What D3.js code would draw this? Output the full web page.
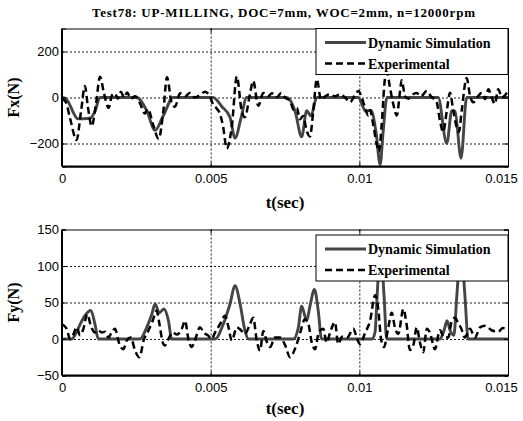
<!DOCTYPE html>
<html>
<head>
<meta charset="utf-8">
<script src="https://cdn.jsdelivr.net/npm/d3@7"></script>
<style>
  body { margin: 0; background: #fff; }
  svg { display: block; }
  .tick text { font-family: "Liberation Sans", Arial, sans-serif; font-size: 13px; fill: #000; }
  .serif { font-family: "Liberation Serif", "Times New Roman", serif; font-weight: bold; fill: #000; }
  .grid line { stroke: #000; stroke-width: 0.9; stroke-dasharray: 2,2; }
  .grid path { display: none; }
</style>
</head>
<body>
<div class="chart"></div>
<script>
// Tick values and labels
var xTicks = [0, 0.005, 0.01, 0.015];
var xTickLabels = ["0", "0.005", "0.01", "0.015"];
var fxTicks = [-200, 0, 200];
var fyTicks = [-50, 0, 50, 100, 150];
var seriesNames = ["Dynamic Simulation", "Experimental"];
var chartTitle = "Test78: UP-MILLING, DOC=7mm, WOC=2mm, n=12000rpm";

// Fx(N), dynamic simulation (time in sec)
var fxSimT = [0, 0.13e-3, 0.54e-3, 0.94e-3, 1.11e-3, 1.28e-3, 2.51e-3, 2.85e-3, 3.13e-3, 3.41e-3, 3.74e-3,
  5.08e-3, 5.38e-3, 5.65e-3, 5.82e-3, 6.02e-3, 6.21e-3, 7.56e-3, 7.84e-3, 8.06e-3, 8.23e-3, 8.37e-3, 8.57e-3,
  9.96e-3, 10.22e-3, 10.39e-3, 10.56e-3, 10.70e-3, 10.80e-3, 10.93e-3, 12.65e-3, 12.94e-3, 13.11e-3, 13.22e-3,
  13.42e-3, 13.61e-3, 15e-3];
var fxSimV = [0, -5, -93, -90, -60, 0, 0, -57, -143, -78, 0,
  0, -40, -86, -177, -90, 0, 0, -60, -171, -57, -80, 0,
  0, -60, -55, -150, -292, -150, 0, 0, -200, -57, -60,
  -264, 0, 0];

// Fx(N), experimental
var fxExpT = [0, 0.13e-3, 0.27e-3, 0.49e-3, 0.64e-3, 0.77e-3, 0.87e-3, 1.00e-3, 1.14e-3, 1.28e-3,
  1.41e-3, 1.57e-3, 1.68e-3, 1.78e-3, 1.88e-3, 1.98e-3, 2.09e-3, 2.19e-3, 2.32e-3, 2.46e-3,
  2.62e-3, 2.79e-3, 2.89e-3, 3.07e-3, 3.25e-3, 3.41e-3, 3.53e-3, 3.69e-3, 3.80e-3, 3.97e-3,
  4.14e-3, 4.30e-3, 4.47e-3, 4.64e-3, 4.81e-3, 4.98e-3, 5.08e-3, 5.18e-3, 5.31e-3, 5.42e-3,
  5.54e-3, 5.71e-3, 5.88e-3, 6.04e-3, 6.15e-3, 6.32e-3, 6.43e-3, 6.60e-3, 6.77e-3, 6.93e-3,
  7.06e-3, 7.23e-3, 7.37e-3, 7.50e-3, 7.67e-3, 7.80e-3, 7.90e-3, 8.00e-3, 8.11e-3, 8.23e-3,
  8.34e-3, 8.45e-3, 8.57e-3, 8.71e-3, 8.85e-3, 9.01e-3, 9.18e-3, 9.35e-3, 9.52e-3, 9.69e-3,
  9.85e-3, 9.97e-3, 10.08e-3, 10.19e-3, 10.30e-3, 10.36e-3, 10.47e-3, 10.58e-3, 10.66e-3, 10.75e-3,
  10.86e-3, 10.93e-3, 11.03e-3, 11.14e-3, 11.26e-3, 11.37e-3, 11.42e-3, 11.54e-3, 11.65e-3, 11.76e-3,
  11.93e-3, 12.07e-3, 12.27e-3, 12.41e-3, 12.60e-3, 12.71e-3, 12.82e-3, 12.94e-3, 13.05e-3, 13.16e-3,
  13.27e-3, 13.35e-3, 13.44e-3, 13.61e-3, 13.72e-3, 13.83e-3, 13.96e-3, 14.12e-3, 14.23e-3, 14.34e-3,
  14.45e-3, 14.56e-3, 14.67e-3, 14.80e-3, 14.90e-3, 15.00e-3];
var fxExpV = [-5, -20, -90, -185, -60, 50, -40, -125, -30, 90,
  20, -45, 10, 18, -5, 25, 0, 22, -5, 5,
  -25, -70, -50, -120, -180, -57, 88, -25, -40, 18,
  5, 20, 0, 10, 25, 3, -30, -45, -70, -128,
  -222, -128, 92, -57, -86, 14, 72, -36, 20, 5,
  18, 2, 20, 0, -15, -55, -45, -95, -80, -145,
  -170, -60, 80, -10, 5, 15, 5, 15, 0, -20,
  10, 28, 0, -43, -78, -55, -121, -200, -235, -120,
  80, 110, 43, -28, -78, 28, 75, 5, -5, 10,
  20, 5, 28, 5, -21, -100, -150, -60, 21, -57,
  -128, -150, -60, 85, 10, -21, 0, 21, -7, 36,
  0, -28, 36, 0, 10, 28];

// Fy(N), dynamic simulation
var fySimT = [0, 0.33e-3, 0.47e-3, 0.61e-3, 0.77e-3, 0.97e-3, 1.11e-3, 1.22e-3,
  2.62e-3, 2.85e-3, 3.02e-3, 3.13e-3, 3.27e-3, 3.43e-3, 3.58e-3, 3.69e-3,
  5.15e-3, 5.42e-3, 5.65e-3, 5.82e-3, 5.99e-3, 6.15e-3, 6.27e-3,
  7.78e-3, 7.95e-3, 8.06e-3, 8.23e-3, 8.34e-3, 8.49e-3, 8.62e-3, 8.73e-3,
  10.43e-3, 10.53e-3, 10.60e-3, 10.71e-3, 10.83e-3, 10.92e-3,
  12.71e-3, 12.85e-3, 12.95e-3, 13.05e-3, 13.18e-3, 13.28e-3, 13.42e-3, 13.55e-3, 13.66e-3, 15e-3];
var fySimV = [0, 0, 8, 20, 32, 39, 20, 0,
  0, 16, 34, 48, 36, 41, 25, 0,
  0, 20, 48, 73, 48, 12, 0,
  0, 16, 45, 25, 45, 68, 38, 0,
  0, 10, 60, 125, 60, 0,
  0, 12, 25, 12, 5, 60, 125, 60, 0, 0];

// Fy(N), experimental
var fyExpT = [0, 0.16e-3, 0.27e-3, 0.37e-3, 0.49e-3, 0.61e-3, 0.72e-3, 0.85e-3, 0.97e-3, 1.11e-3,
  1.21e-3, 1.34e-3, 1.45e-3, 1.56e-3, 1.67e-3, 1.78e-3, 1.93e-3, 2.06e-3, 2.18e-3, 2.31e-3,
  2.46e-3, 2.60e-3, 2.76e-3, 2.90e-3, 3.05e-3, 3.18e-3, 3.28e-3, 3.39e-3, 3.46e-3, 3.58e-3,
  3.72e-3, 3.87e-3, 4.03e-3, 4.14e-3, 4.25e-3, 4.36e-3, 4.47e-3, 4.64e-3, 4.78e-3, 4.91e-3,
  5.03e-3, 5.15e-3, 5.31e-3, 5.48e-3, 5.59e-3, 5.71e-3, 5.88e-3, 6.02e-3, 6.15e-3, 6.32e-3,
  6.43e-3, 6.55e-3, 6.66e-3, 6.77e-3, 6.89e-3, 7.00e-3, 7.16e-3, 7.33e-3, 7.50e-3, 7.67e-3,
  7.84e-3, 8.00e-3, 8.17e-3, 8.29e-3, 8.40e-3, 8.51e-3, 8.64e-3, 8.79e-3, 8.90e-3, 9.01e-3,
  9.18e-3, 9.29e-3, 9.42e-3, 9.59e-3, 9.80e-3, 9.91e-3, 10.02e-3, 10.19e-3, 10.36e-3, 10.53e-3,
  10.64e-3, 10.73e-3, 10.83e-3, 10.97e-3, 11.09e-3, 11.20e-3, 11.31e-3, 11.48e-3, 11.59e-3, 11.70e-3,
  11.82e-3, 11.93e-3, 12.04e-3, 12.15e-3, 12.27e-3, 12.38e-3, 12.54e-3, 12.71e-3, 12.85e-3, 12.99e-3,
  13.11e-3, 13.22e-3, 13.32e-3, 13.42e-3, 13.55e-3, 13.72e-3, 13.89e-3, 14.06e-3, 14.23e-3, 14.45e-3,
  14.67e-3, 14.83e-3, 15.00e-3];
var fyExpV = [20, 14, 0, 5, 16, 5, 14, 34, 18, 9,
  12, 9, 10, 2, 9, 14, -7, -14, -2, 2,
  -16, -25, 0, 11, 25, 39, 20, -5, -9, 0,
  9, 6, 14, 25, 0, -11, -2, 16, 8, 5,
  0, 9, 20, 32, 18, -2, 16, 12, 7, 20,
  29, -2, -16, 11, -4, -11, 2, 2, -8, -25,
  -13, 7, 27, 20, -5, -14, 10, 14, -5, 8,
  23, -7, 3, 2, 14, 2, -7, 8, 25, 60,
  40, 0, -11, 15, 36, 15, 7, 41, 20, -15,
  -8, 16, -5, -18, 14, 8, -14, 12, 2, 2,
  25, 29, 22, 15, 2, 14, 2, 16, 18, 12,
  10, 15, 14];

// SVG area
var svgWidth = 523;
var svgHeight = 421;
var plotLeft = 62;
var plotWidth = 446;

var svg = d3.select(".chart")
  .append("svg")
  .attr("width", svgWidth)
  .attr("height", svgHeight);

svg.append("rect")
  .attr("width", svgWidth)
  .attr("height", svgHeight)
  .attr("fill", "#fff");

// Title (MATLAB spreads it out a bit)
svg.append("text")
  .attr("class", "serif")
  .attr("x", 92)
  .attr("y", 17)
  .attr("textLength", 383)
  .attr("lengthAdjust", "spacing")
  .style("font-size", "13px")
  .text(chartTitle);

function drawPanel(cfg) {
  var h = cfg.height;
  var g = svg.append("g")
    .attr("transform", `translate(${plotLeft}, ${cfg.top})`);

  var x = d3.scaleLinear().domain([0, 0.015]).range([0, plotWidth]);
  var y = d3.scaleLinear().domain(cfg.yDomain).range([h, 0]);

  // dotted grid
  g.append("g")
    .attr("class", "grid")
    .attr("transform", `translate(0, ${h})`)
    .call(d3.axisBottom(x).tickValues(xTicks.slice(1, -1)).tickSize(-h).tickFormat(""));
  g.append("g")
    .attr("class", "grid")
    .call(d3.axisLeft(y).tickValues(cfg.yTicks.filter(d => d > cfg.yDomain[0] && d < cfg.yDomain[1]))
      .tickSize(-plotWidth).tickFormat(""));

  // clip the curves to the plot area
  g.append("clipPath")
    .attr("id", cfg.id)
    .append("rect")
    .attr("width", plotWidth)
    .attr("height", h);

  var line = d3.line()
    .x(d => x(d[0]))
    .y(d => y(d[1]))
    .curve(d3.curveMonotoneX);

  g.append("path")
    .datum(d3.zip(cfg.simT, cfg.simV))
    .attr("clip-path", `url(#${cfg.id})`)
    .attr("fill", "none")
    .attr("stroke", "#454545")
    .attr("stroke-width", 2.9)
    .attr("stroke-linejoin", "round")
    .attr("d", line);

  g.append("path")
    .datum(d3.zip(cfg.expT, cfg.expV))
    .attr("clip-path", `url(#${cfg.id})`)
    .attr("fill", "none")
    .attr("stroke", "#000")
    .attr("stroke-width", 2.5)
    .attr("stroke-dasharray", "7,4")
    .attr("stroke-linejoin", "round")
    .attr("d", line);

  // axes with inward ticks
  var bottomAxis = d3.axisBottom(x).tickValues(xTicks).tickSize(-4).tickPadding(7)
    .tickFormat((d, i) => xTickLabels[i]);
  var leftAxis = d3.axisLeft(y).tickValues(cfg.yTicks).tickSize(-4).tickPadding(3);

  var xAxisG = g.append("g")
    .attr("transform", `translate(0, ${h})`)
    .call(bottomAxis);
  // last label is pulled inside the figure, as MATLAB does
  xAxisG.selectAll(".tick text")
    .filter((d, i) => i === xTicks.length - 1)
    .attr("dx", -7);

  g.append("g")
    .call(leftAxis);
  g.append("g")
    .call(d3.axisTop(x).tickValues(xTicks).tickSize(-4).tickFormat(""));
  g.append("g")
    .attr("transform", `translate(${plotWidth}, 0)`)
    .call(d3.axisRight(y).tickValues(cfg.yTicks).tickSize(-4).tickFormat(""));
  g.selectAll(".domain").attr("stroke", "#000").attr("stroke-width", 1);
  g.selectAll(".tick line").attr("stroke", "#000");

  // heavier left/bottom edges
  g.append("line").attr("x1", 0).attr("x2", 0).attr("y1", 0).attr("y2", h)
    .attr("stroke", "#000").attr("stroke-width", 2);
  g.append("line").attr("x1", 0).attr("x2", plotWidth).attr("y1", h).attr("y2", h)
    .attr("stroke", "#000").attr("stroke-width", 2);

  // axis titles
  g.append("text")
    .attr("class", "serif")
    .attr("transform", `translate(-43, ${h / 2}) rotate(-90)`)
    .attr("text-anchor", "middle")
    .style("font-size", "16px")
    .text(cfg.yLabel);
  g.append("text")
    .attr("class", "serif")
    .attr("x", plotWidth / 2)
    .attr("y", h + cfg.xLabelGap)
    .attr("text-anchor", "middle")
    .style("font-size", "17px")
    .text("t(sec)");

  // legend
  var lg = g.append("g")
    .attr("transform", `translate(${plotWidth - 192}, ${cfg.legendTop})`);
  lg.append("rect")
    .attr("width", 192)
    .attr("height", 46)
    .attr("fill", "#fff")
    .attr("stroke", "#000")
    .attr("stroke-width", 1);
  seriesNames.forEach(function(name, i) {
    var ly = 14 + i * 21;
    lg.append("line")
      .attr("x1", 9).attr("x2", 50)
      .attr("y1", ly).attr("y2", ly)
      .attr("stroke", i === 0 ? "#454545" : "#000")
      .attr("stroke-width", i === 0 ? 2.9 : 2.5)
      .attr("stroke-dasharray", i === 0 ? null : "7,4");
    lg.append("text")
      .attr("class", "serif")
      .attr("x", 52)
      .attr("y", ly + 5)
      .style("font-size", "14px")
      .text(name);
  });
}

drawPanel({
  id: "clipFx", top: 28.5, height: 138, yDomain: [-300, 300], yTicks: fxTicks,
  simT: fxSimT, simV: fxSimV, expT: fxExpT, expV: fxExpV,
  yLabel: "Fx(N)", xLabelGap: 41, legendTop: 0
});

drawPanel({
  id: "clipFy", top: 229.5, height: 146, yDomain: [-50, 150], yTicks: fyTicks,
  simT: fySimT, simV: fySimV, expT: fyExpT, expV: fyExpV,
  yLabel: "Fy(N)", xLabelGap: 38, legendTop: 5.5
});
</script>
</body>
</html>
